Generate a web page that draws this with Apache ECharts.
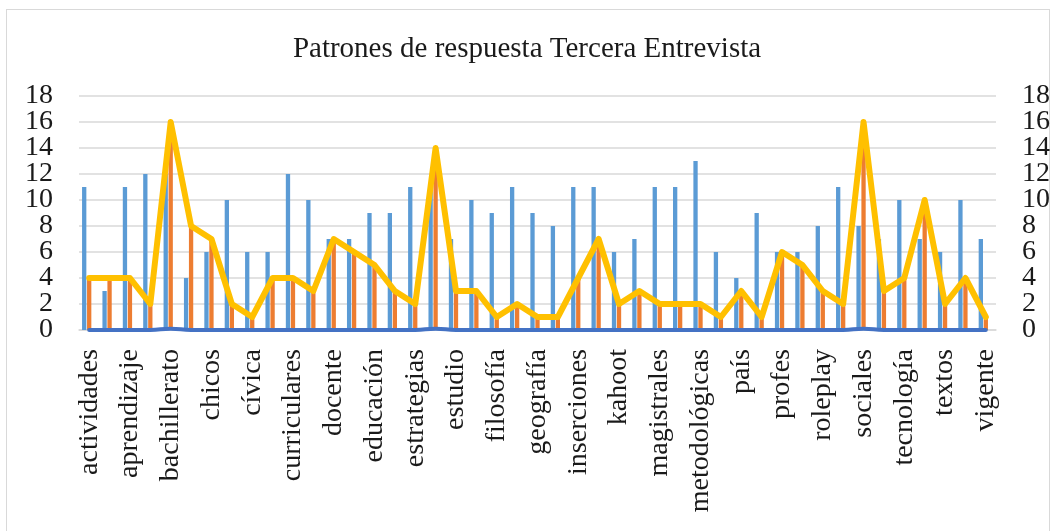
<!DOCTYPE html>
<html>
<head>
<meta charset="utf-8">
<script src="https://cdn.jsdelivr.net/npm/echarts@6/dist/echarts.min.js"></script>
<style>
  html, body { margin: 0; padding: 0; background: #fff; }
  #frame { position: absolute; left: 6px; top: 9px; width: 1044px; height: 540px; border: 1px solid #d9d9d9; box-sizing: border-box; }
  #chart { position: absolute; left: 0; top: 0; width: 1054px; height: 531px; }
</style>
</head>
<body>
<div id="frame"></div>
<div id="chart"></div>
<script>
// categorías (solo se muestran las impares)
const categories = [
  'actividades', 'alumnos', 'aprendizaje', 'aula', 'bachillerato', 'carrera',
  'chicos', 'ciencias', 'cívica', 'clases', 'curriculares', 'didáctica',
  'docente', 'docentes', 'educación', 'enseñanza', 'estrategias', 'estudiantes',
  'estudio', 'evaluación', 'filosofía', 'formación', 'geografía', 'historia',
  'inserciones', 'investigación', 'kahoot', 'lectura', 'magistrales', 'materias',
  'metodológicas', 'pandemia', 'país', 'práctica', 'profes', 'proyectos',
  'roleplay', 'saberes', 'sociales', 'sociedad', 'tecnología', 'temas',
  'textos', 'trabajo', 'vigente'
];
const serie1 = [11, 3, 11, 12, 12, 4, 6, 10, 6, 6, 12, 10, 7, 7, 9, 9, 11, 11, 7, 10, 9, 11, 9, 8, 11, 11, 6, 7, 11, 11, 13, 6, 4, 9, 6, 6, 8, 11, 8, 7, 10, 7, 6, 10, 7];
const serie2 = [4, 4, 4, 2, 16, 8, 7, 2, 1, 4, 4, 3, 7, 6, 5, 3, 2, 14, 3, 3, 1, 2, 1, 1, 4, 7, 2, 3, 2, 2, 2, 1, 3, 1, 6, 5, 3, 2, 16, 3, 4, 10, 2, 4, 1];
const serie3 = [0, 0, 0, 0, 0.1, 0, 0, 0, 0, 0, 0, 0, 0, 0, 0, 0, 0, 0.1, 0, 0, 0, 0, 0, 0, 0, 0, 0, 0, 0, 0, 0, 0, 0, 0, 0, 0, 0, 0, 0.1, 0, 0, 0, 0, 0, 0];
const tendencia = [4, 4, 4, 2, 16, 8, 7, 2, 1, 4, 4, 3, 7, 6, 5, 3, 2, 14, 3, 3, 1, 2, 1, 1, 4, 7, 2, 3, 2, 2, 2, 1, 3, 1, 6, 5, 3, 2, 16, 3, 4, 10, 2, 4, 1];
const vacia = categories.map(() => 0);
const yMin = 0;
const yMax = 18;
const yStep = 2;

const fontFamily = "'Liberation Serif', 'Times New Roman', serif";

const chart = echarts.init(document.getElementById('chart'));

// eje de valores; "extremos" = solo etiquetas 0 y 18 (ECharts oculta las de los extremos por solape)
function valueAxis(position, extremos, grid) {
  return {
    type: 'value',
    position: position,
    min: yMin,
    max: yMax,
    interval: yStep,
    axisLine: { show: false },
    axisTick: { show: false },
    splitLine: grid ? { lineStyle: { color: '#d9d9d9', width: 1.5 } } : { show: false },
    axisLabel: {
      fontFamily: fontFamily,
      fontSize: 28,
      color: '#1a1a1a',
      margin: 26,
      showMinLabel: extremos,
      showMaxLabel: extremos,
      formatter: extremos
        ? function(v) { return (v === yMin || v === yMax) ? String(v) : ''; }
        : function(v) { return String(v); }
    }
  };
}

chart.setOption({
  animation: false,
  title: {
    text: 'Patrones de respuesta Tercera Entrevista',
    left: 'center',
    top: 30,
    textStyle: {
      fontFamily: fontFamily,
      fontSize: 29,
      fontWeight: 'normal',
      color: '#1a1a1a'
    }
  },
  grid: {
    left: 79,
    right: 58,
    top: 96,
    bottom: 201
  },
  xAxis: {
    type: 'category',
    data: categories,
    axisLine: { lineStyle: { color: '#d9d9d9', width: 1.5 } },
    axisTick: { show: false },
    axisLabel: {
      interval: 1,
      rotate: 90,
      margin: 19,
      fontFamily: fontFamily,
      fontSize: 28,
      color: '#1a1a1a'
    }
  },
  yAxis: [
    valueAxis('left', false, true),
    valueAxis('right', false, false),
    valueAxis('left', true, false),
    valueAxis('right', true, false)
  ],
  series: [
    {
      type: 'bar',
      data: serie1,
      barWidth: 4.3,
      barGap: '16%',
      itemStyle: { color: '#5b9bd5' }
    },
    {
      type: 'bar',
      data: serie2,
      barWidth: 4.3,
      barGap: '16%',
      itemStyle: { color: '#ed7d31' }
    },
    {
      type: 'bar',
      data: vacia,
      barWidth: 4.3,
      barGap: '16%',
      itemStyle: { color: '#a5a5a5' }
    },
    {
      type: 'line',
      data: serie3,
      smooth: true,
      showSymbol: false,
      lineStyle: { color: '#4472c4', width: 4, cap: 'round' }
    },
    {
      type: 'line',
      yAxisIndex: 1,
      data: tendencia,
      showSymbol: false,
      lineStyle: { color: '#ffc000', width: 6, join: 'round', cap: 'round' }
    }
  ]
});
</script>
</body>
</html>
